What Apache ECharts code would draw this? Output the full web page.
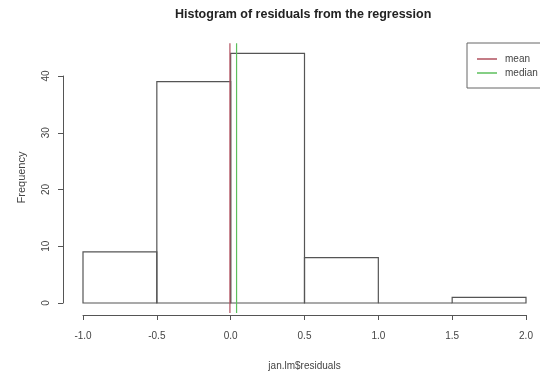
<!DOCTYPE html>
<html>
<head>
<meta charset="utf-8">
<script src="https://cdn.jsdelivr.net/npm/echarts@6/dist/echarts.min.js"></script>
<style>
  html, body { margin: 0; padding: 0; background: #fff; }
  #chart { width: 540px; height: 373px; }
</style>
</head>
<body>
<div id="chart"></div>
<script>
// Histogram bins (residuals) and counts
const binStarts = [-1.0, -0.5, 0.0, 0.5, 1.0, 1.5];
const binEnds = [-0.5, 0.0, 0.5, 1.0, 1.5, 2.0];
const binCounts = [9, 39, 44, 8, 0, 1];

// Reference lines
const meanValue = -0.005;
const medianValue = 0.04;
// vertical extent of the reference lines (plot region in frequency units)
const refLineYRange = [-1.76, 45.76];

const xTicks = { min: -1.0, max: 2.0, step: 0.5 };
const yTicks = { min: 0, max: 40, step: 10 };

const axisColor = '#555';
const textColor = '#444';
const fontFamily = '"Liberation Sans", Arial, sans-serif';

const chart = echarts.init(document.getElementById('chart'));

const histData = binStarts.map((s, i) => [s, binEnds[i], binCounts[i]]);

const option = {
  backgroundColor: '#fff',
  animation: false,
  title: {
    text: 'Histogram of residuals from the regression',
    left: 175,
    top: 8,
    padding: 0,
    textStyle: {
      fontFamily: fontFamily,
      fontSize: 12.5,
      fontWeight: 'bold',
      color: '#222'
    }
  },
  legend: {
    orient: 'vertical',
    left: 467,
    top: 43,
    padding: [9, 40, 8, 10],
    itemGap: 0,
    itemWidth: 20,
    itemHeight: 1.5,
    icon: 'rect',
    borderColor: '#666',
    borderWidth: 1,
    textStyle: {
      fontFamily: fontFamily,
      fontSize: 10,
      lineHeight: 14,
      color: textColor,
      padding: [0, 0, 0, 3]
    },
    data: ['mean', 'median']
  },
  grid: {
    left: 83,
    right: 14,
    top: 76,
    bottom: 70,
    containLabel: false,
    outerBoundsMode: 'none'
  },
  xAxis: {
    type: 'value',
    min: xTicks.min,
    max: xTicks.max,
    interval: xTicks.step,
    offset: 12,
    name: 'jan.lm$residuals',
    nameLocation: 'middle',
    nameGap: 46,
    nameTextStyle: { fontFamily: fontFamily, fontSize: 10, color: textColor },
    axisLine: { show: true, onZero: false, lineStyle: { color: axisColor, width: 1 } },
    axisTick: { show: true, length: 5, lineStyle: { color: axisColor } },
    axisLabel: {
      fontFamily: fontFamily,
      fontSize: 10,
      color: textColor,
      margin: 16,
      formatter: v => v.toFixed(1)
    },
    splitLine: { show: false }
  },
  yAxis: {
    type: 'value',
    min: yTicks.min,
    max: yTicks.max,
    interval: yTicks.step,
    offset: 20,
    name: 'Frequency',
    nameLocation: 'middle',
    nameGap: 36,
    nameRotate: 90,
    nameTextStyle: {
      fontFamily: fontFamily,
      fontSize: 11,
      color: textColor,
      padding: [0, 0, 0, 24]
    },
    axisLine: { show: true, onZero: false, lineStyle: { color: axisColor, width: 1 } },
    axisTick: { show: true, length: 5, lineStyle: { color: axisColor } },
    axisLabel: {
      fontFamily: fontFamily,
      fontSize: 10,
      color: textColor,
      rotate: 90,
      margin: 12
    },
    splitLine: { show: false }
  },
  series: [
    {
      name: 'hist',
      type: 'custom',
      clip: false,
      data: histData,
      encode: { x: [0, 1], y: 2 },
      renderItem: function (params, api) {
        const p0 = api.coord([api.value(0), api.value(2)]);
        const p1 = api.coord([api.value(1), 0]);
        return {
          type: 'rect',
          shape: { x: p0[0], y: p0[1], width: p1[0] - p0[0], height: p1[1] - p0[1] },
          style: { fill: 'none', stroke: axisColor, lineWidth: 1.2 }
        };
      }
    },
    {
      name: 'mean',
      type: 'line',
      clip: false,
      symbol: 'none',
      color: '#b0505e',
      lineStyle: { color: '#b0505e', width: 1.2 },
      data: [[meanValue, refLineYRange[0]], [meanValue, refLineYRange[1]]]
    },
    {
      name: 'median',
      type: 'line',
      clip: false,
      symbol: 'none',
      color: '#5cbf5c',
      lineStyle: { color: '#5cbf5c', width: 1.2 },
      data: [[medianValue, refLineYRange[0]], [medianValue, refLineYRange[1]]]
    }
  ]
};

chart.setOption(option);
</script>
</body>
</html>
